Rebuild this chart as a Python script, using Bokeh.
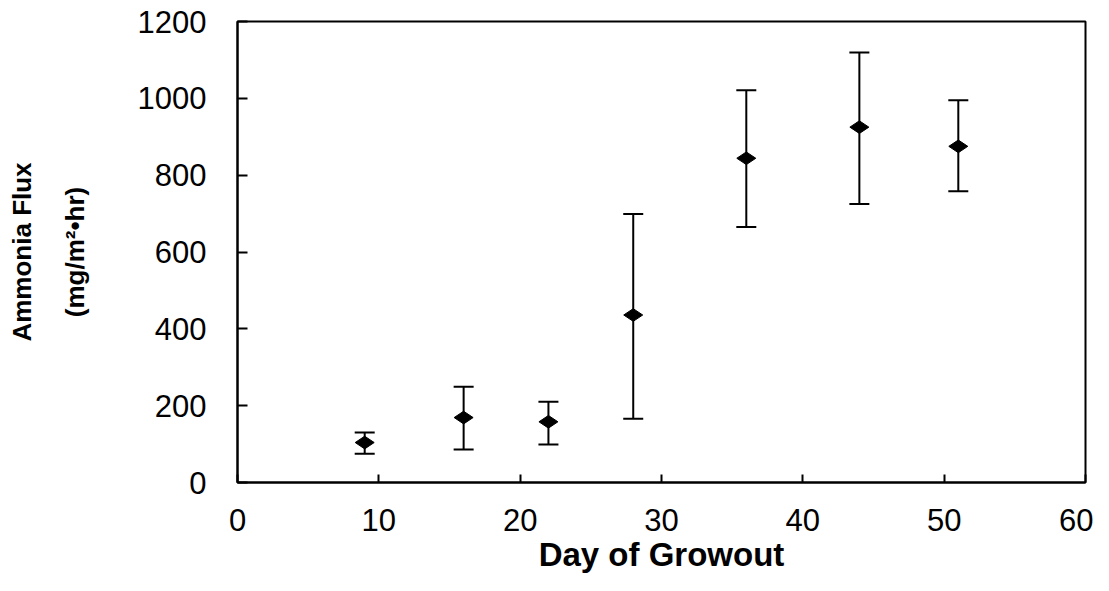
import math
from bokeh.plotting import figure
from bokeh.models import Range1d, Whisker, TeeHead, ColumnDataSource, SingleIntervalTicker
from bokeh.embed import file_html
from bokeh.resources import INLINE

days = [9, 16, 22, 28, 36, 44, 51]
flux = [104, 169, 158, 436, 844, 925, 875]
upper = [130, 249, 210, 699, 1021, 1119, 995]
lower = [75, 86, 99, 166, 665, 725, 758]

x_label = "Day of Growout"
y_label = "Ammonia Flux\n(mg/m\u00b2\u2022hr)"

FONT = "Liberation Sans"

src = ColumnDataSource(dict(x=days, y=flux, upper=upper, lower=lower))

p = figure(width=1093, height=575, output_backend="svg", toolbar_location=None,
           x_range=Range1d(0, 60), y_range=Range1d(0, 1200),
           min_border_left=237, min_border_right=8, min_border_top=21, min_border_bottom=93)

p.grid.visible = False
p.outline_line_color = "black"
p.outline_line_width = 2
p.background_fill_color = "white"
p.border_fill_color = "white"

for ax in (p.xaxis[0], p.yaxis[0]):
    ax.axis_line_width = 2
    ax.axis_line_color = "black"
    ax.major_tick_line_width = 2
    ax.major_tick_line_color = "black"
    ax.major_tick_out = 0
    ax.minor_tick_line_color = None
    ax.major_label_text_font = FONT
    ax.major_label_text_font_size = "31px"
    ax.major_label_text_color = "black"
    ax.axis_label_text_font = FONT
    ax.axis_label_text_font_style = "bold"
    ax.axis_label_text_color = "black"

p.xaxis.ticker = SingleIntervalTicker(interval=10)
p.yaxis.ticker = SingleIntervalTicker(interval=200)
p.xaxis.major_tick_in = 8
p.yaxis.major_tick_in = 10
p.xaxis.major_label_standoff = 22
p.yaxis.major_label_standoff = 27

p.xaxis.axis_label = x_label
p.xaxis.axis_label_text_font_size = "33px"
p.xaxis.axis_label_standoff = 2

p.yaxis.axis_label = y_label
p.yaxis.axis_label_text_font_size = "26px"
p.yaxis.axis_label_text_line_height = 1.75
p.yaxis.axis_label_standoff = 45

whisk = Whisker(source=src, base="x", upper="upper", lower="lower",
                line_color="black", line_width=2,
                upper_head=TeeHead(size=20, line_color="black", line_width=2),
                lower_head=TeeHead(size=20, line_color="black", line_width=2))
p.add_layout(whisk)

p.scatter("x", "y", source=src, marker="diamond", size=19, angle=math.pi / 2,
          fill_color="black", line_color="black")

open("out.html", "w").write(file_html(p, INLINE))
